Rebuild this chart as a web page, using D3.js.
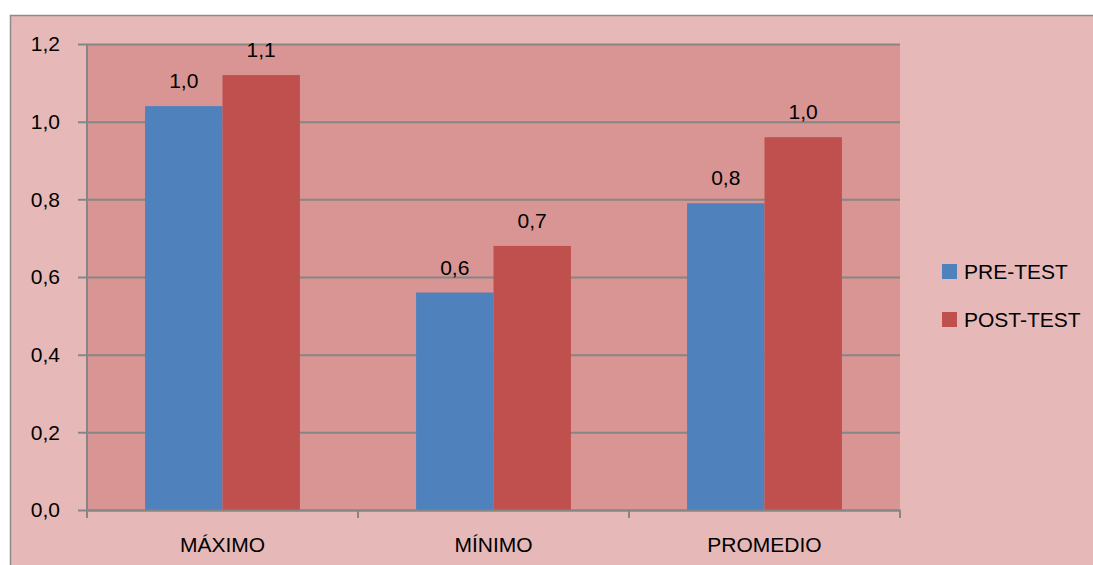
<!DOCTYPE html>
<html>
<head>
<meta charset="utf-8">
<script src="https://cdn.jsdelivr.net/npm/d3@7"></script>
<style>
  body { margin: 0; background: #fff; overflow: hidden; }
  svg { display: block; font-family: "Liberation Sans", Arial, sans-serif; }
</style>
</head>
<body>
<svg id="chart" width="1093" height="565"></svg>
<script>
// chart data
const categories = ["MÁXIMO", "MÍNIMO", "PROMEDIO"];
const series = ["PRE-TEST", "POST-TEST"];
const preTest = [1.04, 0.56, 0.79];
const postTest = [1.12, 0.68, 0.96];
const yTicks = [0, 0.2, 0.4, 0.6, 0.8, 1.0, 1.2];
const colors = ["#4F81BD", "#C0504D"];

const svg = d3.select("#chart");
const margin = { left: 87, top: 44, right: 900, bottom: 510 };
const fontSize = 21;

// comma as decimal mark
const es = d3.formatLocale({ decimal: ",", thousands: ".", grouping: [3], currency: ["", "€"] });
const fmt = es.format(".1f");

// outer chart area (only left/top edges are inside the picture)
svg.append("rect")
    .attr("x", 10).attr("y", 15)
    .attr("width", 1083).attr("height", 550)
    .attr("fill", "#E6B9B8");
svg.append("path")
    .attr("d", "M10.5,565 V15.5 H1093")
    .attr("fill", "none")
    .attr("stroke", "#8C8C8C").attr("stroke-width", 1.5);

// plot area
svg.append("rect")
    .attr("x", margin.left).attr("y", margin.top)
    .attr("width", margin.right - margin.left)
    .attr("height", margin.bottom - margin.top)
    .attr("fill", "#D99594");

var y = d3.scaleLinear().domain([0, 1.2]).range([margin.bottom, margin.top]);
var x0 = d3.scaleBand().domain(categories).range([margin.left, margin.right]);
var x1 = d3.scaleBand().domain(series)
    .range([0, x0.bandwidth()])
    .paddingOuter(0.75).paddingInner(0);

// gridlines + y axis
var yAxis = d3.axisLeft(y).tickValues(yTicks).tickFormat(fmt)
    .tickSize(-(margin.right - margin.left)).tickPadding(27);
var gy = svg.append("g")
    .attr("transform", "translate(" + margin.left + ",0)")
    .call(yAxis);
gy.select(".domain").remove();
gy.selectAll(".tick line")
    .attr("x1", -9)
    .attr("stroke", "#868686").attr("stroke-width", 2);
gy.selectAll(".tick text")
    .attr("fill", "#000").attr("font-size", fontSize)
    .attr("font-family", "Liberation Sans, Arial, sans-serif");

// bars
const rows = categories.map((c, i) => ({ cat: c, values: [preTest[i], postTest[i]] }));
var group = svg.selectAll("g.cat")
    .data(rows)
    .enter().append("g")
    .attr("class", "cat")
    .attr("transform", d => "translate(" + x0(d.cat) + ",0)");

group.selectAll("rect")
    .data(d => d.values.map((v, j) => ({ s: series[j], v: v, j: j })))
    .enter().append("rect")
    .attr("x", d => x1(d.s))
    .attr("y", d => y(d.v))
    .attr("width", x1.bandwidth())
    .attr("height", d => y(0) - y(d.v))
    .attr("fill", d => colors[d.j]);

group.selectAll("text.lbl")
    .data(d => d.values.map((v, j) => ({ s: series[j], v: v })))
    .enter().append("text")
    .attr("class", "lbl")
    .attr("x", d => x1(d.s) + x1.bandwidth() / 2)
    .attr("y", d => y(d.v) - 18)
    .attr("text-anchor", "middle")
    .attr("font-size", fontSize)
    .text(d => fmt(d.v));

// left axis line
svg.append("line")
    .attr("x1", margin.left).attr("x2", margin.left)
    .attr("y1", margin.top).attr("y2", margin.bottom)
    .attr("stroke", "#868686").attr("stroke-width", 2);

// x axis
var gx = svg.append("g")
    .attr("transform", "translate(0," + margin.bottom + ")")
    .call(d3.axisBottom(x0).tickSize(0).tickPadding(27));
gx.select(".domain").attr("stroke", "#868686").attr("stroke-width", 2);
gx.selectAll(".tick text")
    .attr("fill", "#000").attr("font-size", fontSize)
    .attr("font-family", "Liberation Sans, Arial, sans-serif");

// category boundary ticks
const bounds = categories.map(c => x0(c)).concat([margin.right]);
svg.selectAll("line.ctick")
    .data(bounds)
    .enter().append("line")
    .attr("class", "ctick")
    .attr("x1", d => d).attr("x2", d => d)
    .attr("y1", margin.bottom).attr("y2", margin.bottom + 8)
    .attr("stroke", "#868686").attr("stroke-width", 2);

// legend
var legend = svg.selectAll("g.legend")
    .data(series)
    .enter().append("g")
    .attr("class", "legend")
    .attr("transform", (d, i) => "translate(942," + (264 + i * 48) + ")");
legend.append("rect")
    .attr("width", 15).attr("height", 15)
    .attr("fill", (d, i) => colors[i]);
legend.append("text")
    .attr("x", 22).attr("y", 8)
    .attr("dy", "0.35em")
    .attr("font-size", fontSize)
    .text(d => d);
</script>
</body>
</html>
